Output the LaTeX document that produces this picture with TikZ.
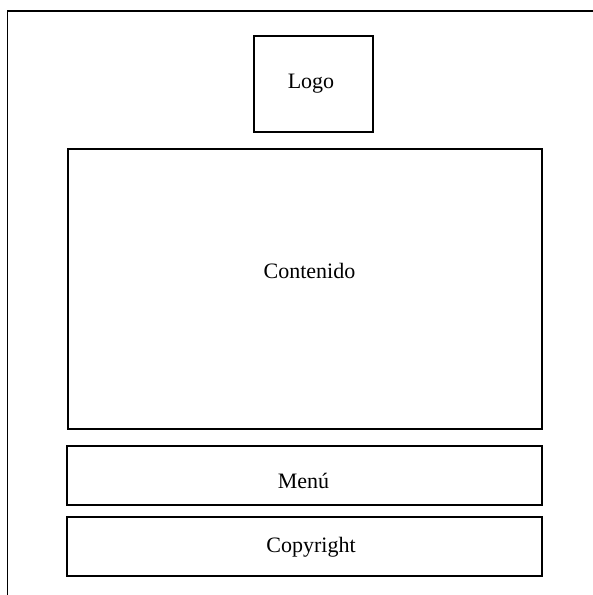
\documentclass[tikz,border=0pt]{standalone}
\usepackage{fontspec}
\setmainfont{Liberation Serif}
\begin{document}
\begin{tikzpicture}[x=1pt,y=-1pt,
        caja/.style={draw,line width=1.2pt,inner sep=0pt},
        texto/.style={font=\fontsize{22}{26}\selectfont,anchor=base,inner sep=0pt}]
        \useasboundingbox (0,0) rectangle (593,595);
        \draw[line width=1.2pt] (7.5,595)--(7.5,11)--(593,11);
        \node[caja,minimum width=119,minimum height=96] (logo) at (313.5,84) {};
        \node[caja,minimum width=474,minimum height=280] (contenido) at (305,289) {};
        \node[caja,minimum width=475,minimum height=59] (menu) at (304.5,475.5) {};
        \node[caja,minimum width=475,minimum height=59] (copyright) at (304.5,546.5) {};
        \node[texto] (tlogo) at (311,88) {Logo};
        \node[texto] (tcontenido) at (309.5,278) {Contenido};
        \node[texto] (tmenu) at (303.5,488) {Menú};
        \node[texto] (tcopyright) at (311,552) {Copyright};
        \end{tikzpicture}
\end{document}
